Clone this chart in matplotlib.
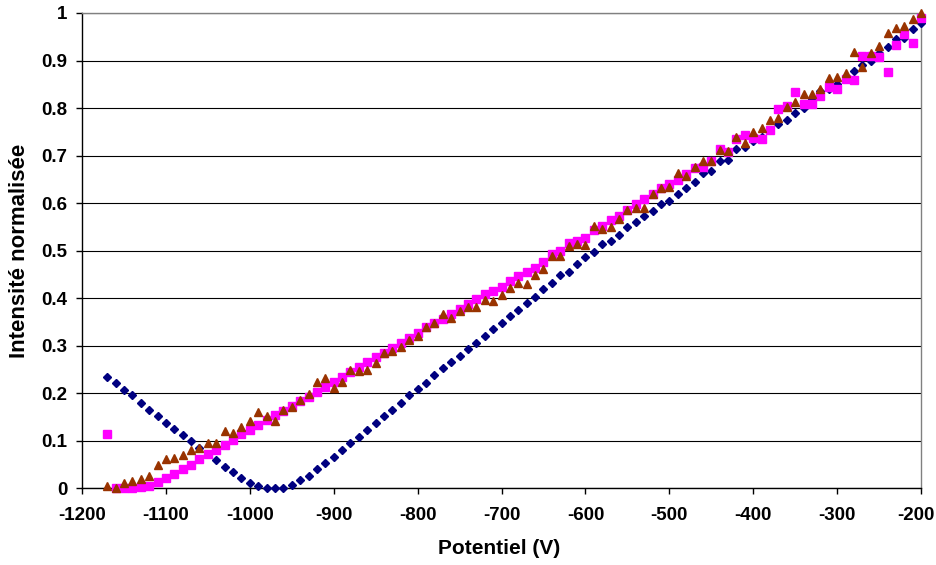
import numpy as np
import matplotlib
matplotlib.use('Agg')
import matplotlib.pyplot as plt
import matplotlib.transforms as mtransforms

plt.rcParams['font.family'] = ['Liberation Sans', 'DejaVu Sans']
plt.rcParams['font.weight'] = 'bold'
plt.rcParams['axes.unicode_minus'] = False

# potentiel (V), one point every 10 V
potentiel = list(range(-1170, -190, 10))

# navy diamonds
serie1 = [0.234, 0.222, 0.208, 0.196, 0.180, 0.166, 0.152, 0.138, 0.125, 0.112,
          0.099, 0.085, 0.073, 0.060, 0.046, 0.034, 0.022, 0.012, 0.005, 0.000,
          0.000, 0.002, 0.007, 0.017, 0.027, 0.040, 0.053, 0.066, 0.082, 0.095,
          0.109, 0.123, 0.138, 0.153, 0.165, 0.179, 0.196, 0.209, 0.222, 0.239,
          0.253, 0.265, 0.279, 0.293, 0.307, 0.321, 0.335, 0.347, 0.363, 0.375,
          0.391, 0.403, 0.419, 0.432, 0.448, 0.456, 0.472, 0.486, 0.498, 0.514,
          0.521, 0.533, 0.549, 0.561, 0.574, 0.584, 0.598, 0.605, 0.619, 0.633,
          0.645, 0.663, 0.668, 0.688, 0.691, 0.714, 0.719, 0.730, 0.740, 0.754,
          0.767, 0.774, 0.790, 0.800, 0.819, 0.835, 0.840, 0.851, 0.865, 0.877,
          0.891, 0.900, 0.916, 0.928, 0.945, 0.947, 0.967, 0.980]

# magenta squares
serie2 = [0.114, 0.000, 0.000, 0.000, 0.003, 0.006, 0.013, 0.022, 0.031, 0.040,
          0.050, 0.061, 0.072, 0.081, 0.092, 0.102, 0.114, 0.123, 0.134, 0.145,
          0.154, 0.164, 0.173, 0.184, 0.192, 0.203, 0.213, 0.224, 0.235, 0.246,
          0.255, 0.265, 0.276, 0.286, 0.296, 0.307, 0.316, 0.328, 0.339, 0.347,
          0.356, 0.368, 0.377, 0.388, 0.398, 0.409, 0.415, 0.424, 0.437, 0.447,
          0.456, 0.464, 0.477, 0.493, 0.499, 0.516, 0.521, 0.526, 0.544, 0.551,
          0.565, 0.573, 0.586, 0.598, 0.608, 0.619, 0.632, 0.641, 0.649, 0.662,
          0.674, 0.676, 0.688, 0.714, 0.707, 0.735, 0.744, 0.737, 0.735, 0.753,
          0.799, 0.805, 0.833, 0.808, 0.808, 0.826, 0.844, 0.840, 0.861, 0.860,
          0.909, 0.909, 0.907, 0.875, 0.933, 0.956, 0.937, 0.989]

# brown triangles
serie3 = [0.006, 0.000, 0.011, 0.015, 0.020, 0.026, 0.050, 0.062, 0.064, 0.071,
          0.081, 0.085, 0.095, 0.095, 0.120, 0.116, 0.130, 0.143, 0.160, 0.153,
          0.141, 0.165, 0.172, 0.186, 0.198, 0.224, 0.232, 0.211, 0.224, 0.250,
          0.248, 0.249, 0.264, 0.286, 0.290, 0.297, 0.312, 0.320, 0.340, 0.347,
          0.366, 0.359, 0.373, 0.382, 0.381, 0.397, 0.394, 0.406, 0.422, 0.433,
          0.431, 0.449, 0.461, 0.490, 0.488, 0.509, 0.514, 0.512, 0.552, 0.545,
          0.550, 0.567, 0.586, 0.589, 0.589, 0.619, 0.633, 0.635, 0.663, 0.657,
          0.677, 0.689, 0.688, 0.712, 0.709, 0.739, 0.726, 0.749, 0.758, 0.775,
          0.779, 0.803, 0.813, 0.830, 0.830, 0.840, 0.863, 0.865, 0.874, 0.919,
          0.886, 0.916, 0.930, 0.958, 0.968, 0.973, 0.987, 1.000]

fig = plt.figure(figsize=(9.37, 5.65), dpi=100)
ax = fig.add_axes([0.0875, 0.1354, 0.8955, 0.8416])

ax.plot(potentiel, serie1, linestyle='none', marker='D', markersize=4.2,
        color='#000080', clip_on=False, zorder=3)
ax.plot(potentiel, serie2, linestyle='none', marker='s', markersize=5.4,
        color='#FF00FF', clip_on=False, zorder=4)
ax.plot(potentiel, serie3, linestyle='none', marker='^', markersize=6.3,
        color='#993300', clip_on=False, zorder=5)

ax.set_xlim(-1200, -200)
ax.set_ylim(0, 1)
ax.set_xticks(np.arange(-1200, -100, 100))
ax.set_yticks(np.arange(0, 1.01, 0.1))
ax.set_yticklabels(['0', '0.1', '0.2', '0.3', '0.4', '0.5', '0.6', '0.7', '0.8', '0.9', '1'])

ax.yaxis.grid(True, color='black', linewidth=0.8)
ax.set_axisbelow(True)

ax.spines['left'].set_color('black')
ax.spines['bottom'].set_color('black')
ax.spines['top'].set_color('#808080')
ax.spines['right'].set_color('#808080')
for s in ax.spines.values():
    s.set_linewidth(1.0)

ax.tick_params(axis='both', direction='out', length=4.5, width=1, labelsize=13.5)
ax.tick_params(axis='x', pad=9)
ax.tick_params(axis='y', pad=6)

# last x label sits a bit left so it stays inside the figure
last = ax.get_xticklabels()[-1]
last.set_transform(last.get_transform() +
                   mtransforms.ScaledTranslation(-5 / 100, 0, fig.dpi_scale_trans))

ax.set_xlabel('Potentiel (V)', fontsize=15, fontweight='bold')
ax.set_ylabel('Intensité normalisée', fontsize=16, fontweight='bold')
ax.xaxis.set_label_coords(0.497, -0.106)
ax.yaxis.set_label_coords(-0.062, 0.5)

fig.savefig('out.png', dpi=100)
